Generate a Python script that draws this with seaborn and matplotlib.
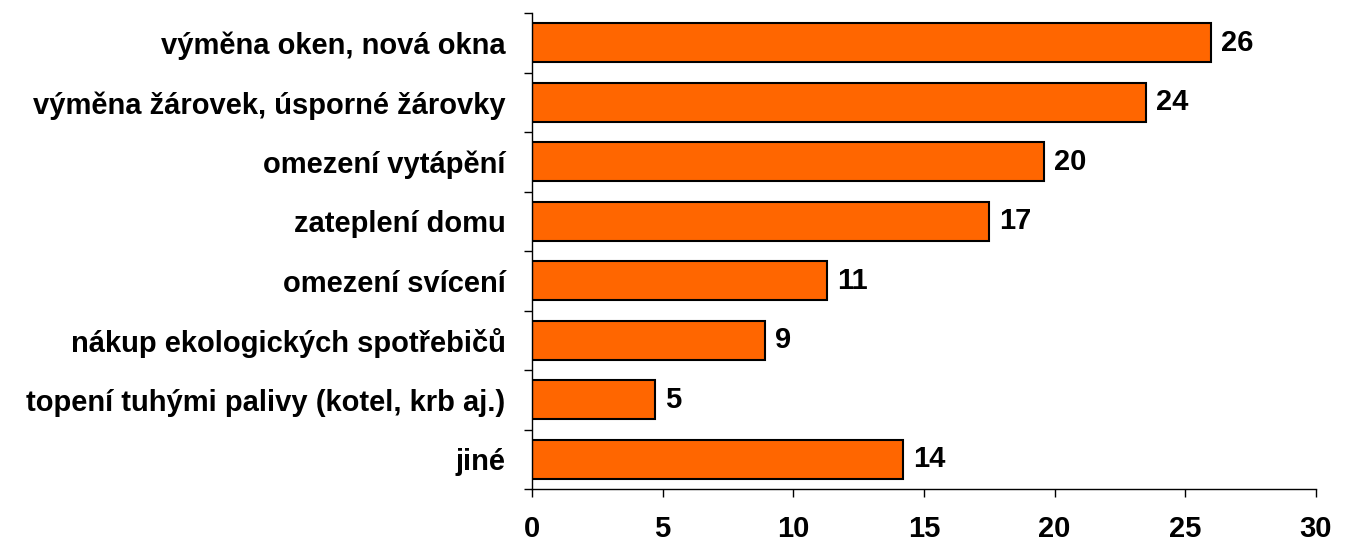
import matplotlib
matplotlib.use("Agg")
import matplotlib.pyplot as plt
import seaborn as sns
import numpy as np
import pandas as pd
from matplotlib.ticker import FixedLocator

categories = [
    "výměna oken, nová okna",
    "výměna žárovek, úsporné žárovky",
    "omezení vytápění",
    "zateplení domu",
    "omezení svícení",
    "nákup ekologických spotřebičů",
    "topení tuhými palivy (kotel, krb aj.)",
    "jiné",
]
values = [26.0, 23.5, 19.6, 17.5, 11.3, 8.9, 4.7, 14.2]
value_labels = ["26", "24", "20", "17", "11", "9", "5", "14"]
xticks = [0, 5, 10, 15, 20, 25, 30]

sns.set_style("white")
plt.rcParams["font.family"] = ["Liberation Sans", "DejaVu Sans"]
plt.rcParams["font.weight"] = "bold"
plt.rcParams["text.color"] = "black"
plt.rcParams["xtick.color"] = "black"
plt.rcParams["ytick.color"] = "black"

FS = 21

df = pd.DataFrame({"cat": categories, "val": values})

fig = plt.figure(figsize=(13.49, 5.43), dpi=100)
ax = fig.add_axes([532 / 1349, 1 - 489 / 543, (1316 - 532) / 1349, (489 - 13) / 543])

sns.barplot(data=df, y="cat", x="val", orient="h", color="#FF6600",
            saturation=1, edgecolor="black", linewidth=1.5, width=0.66, ax=ax)

ax.set_xlim(0, 30)
ax.set_ylim(7.5, -0.5)
ax.set_xlabel("")
ax.set_ylabel("")

for i, (v, lab) in enumerate(zip(values, value_labels)):
    ax.text(v + 0.38, i, lab, va="center", ha="left", fontsize=FS,
            fontweight="bold", color="black")

ax.set_xticks(xticks)
ax.set_xticklabels([str(t) for t in xticks], fontsize=FS, fontweight="bold", color="black")
ax.set_yticks(range(len(categories)))
ax.set_yticklabels(categories, fontsize=FS, fontweight="bold", color="black")
ax.yaxis.set_minor_locator(FixedLocator(np.arange(-0.5, 8.0, 1.0)))
ax.tick_params(axis="y", which="major", length=0, pad=19)
ax.tick_params(axis="y", which="minor", length=6, width=1, direction="out", left=True, color="black")
ax.tick_params(axis="x", which="major", length=6, width=1, direction="out", bottom=True, pad=13, color="black")

for s in ["top", "right"]:
    ax.spines[s].set_visible(False)
for s in ["left", "bottom"]:
    ax.spines[s].set_visible(True)
    ax.spines[s].set_color("black")
    ax.spines[s].set_linewidth(1)

fig.savefig("out.png", dpi=100, facecolor="white")
